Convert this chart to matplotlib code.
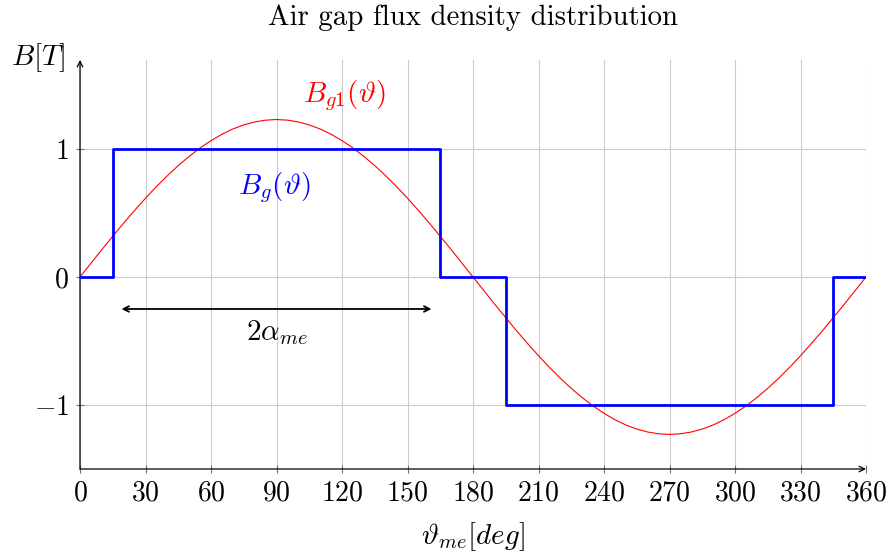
import numpy as np
import matplotlib
matplotlib.use("Agg")
import matplotlib.pyplot as plt

plt.rcParams['font.family'] = 'serif'
plt.rcParams['font.serif'] = ['cmr10']
plt.rcParams['mathtext.fontset'] = 'cm'
plt.rcParams['axes.unicode_minus'] = False

# -----------------------------
# Data
# -----------------------------
# square wave (air gap flux density), step edges
theta_sq = [0, 15, 165, 195, 345, 360]
b_sq = [0, 1, 0, -1, 0, 0]

# fundamental, read every 5 deg
theta_sin = list(range(0, 361, 5))
b_sin = [0, 0.107, 0.214, 0.318, 0.421, 0.520, 0.615, 0.706, 0.791, 0.870,
         0.942, 1.008, 1.065, 1.115, 1.156, 1.188, 1.211, 1.225, 1.230,
         1.225, 1.211, 1.188, 1.156, 1.115, 1.065, 1.008, 0.942, 0.870,
         0.791, 0.706, 0.615, 0.520, 0.421, 0.318, 0.214, 0.107, 0,
         -0.107, -0.214, -0.318, -0.421, -0.520, -0.615, -0.706, -0.791, -0.870,
         -0.942, -1.008, -1.065, -1.115, -1.156, -1.188, -1.211, -1.225, -1.230,
         -1.225, -1.211, -1.188, -1.156, -1.115, -1.065, -1.008, -0.942, -0.870,
         -0.791, -0.706, -0.615, -0.520, -0.421, -0.318, -0.214, -0.107, 0]

x_ticks = list(range(0, 361, 30))
y_ticks = [-1, 0, 1]

# -----------------------------
# Figure
# -----------------------------
fig = plt.figure(figsize=(8.9, 5.55), dpi=100)
ax = fig.add_axes([80 / 890, (555 - 469) / 555, 786 / 890, (469 - 60) / 555])

ax.plot(theta_sin, b_sin, color='#ff0000', lw=0.8, zorder=3)
ax.step(theta_sq, b_sq, where='post', color='#0000ff', lw=2.0, zorder=4)

ax.set_xlim(0, 360)
ax.set_ylim(-1.5, 1.695)

ax.set_xticks(x_ticks)
ax.set_xticklabels([f'${t}$' for t in x_ticks], fontsize=20)
ax.set_yticks(y_ticks)
ax.set_yticklabels([f'${t}$' for t in y_ticks], fontsize=20)
ax.tick_params(direction='inout', length=6, width=0.8, color='0.45', pad=5)

ax.grid(True, color='0.8', lw=0.8)
ax.set_axisbelow(True)

for s in ['top', 'right', 'left', 'bottom']:
    ax.spines[s].set_visible(False)

# axis lines with arrows
ax.annotate('', xy=(1.0, 0), xytext=(0, 0), xycoords='axes fraction',
            arrowprops=dict(arrowstyle='->', lw=0.9, color='black', shrinkA=0, shrinkB=0))
ax.annotate('', xy=(0, 1.0), xytext=(0, 0), xycoords='axes fraction',
            arrowprops=dict(arrowstyle='->', lw=0.9, color='black', shrinkA=0, shrinkB=0))

# 2 alpha_me arrow
ax.annotate('', xy=(161, -0.25), xytext=(19, -0.25),
            arrowprops=dict(arrowstyle='<->', lw=1.3, color='black', shrinkA=0, shrinkB=0))
ax.text(90, -0.43, r'$2\alpha_{me}$', fontsize=21, ha='center', va='center')

ax.text(121, 1.42, r'$B_{g1}(\vartheta)$', fontsize=21, color='#ff0000', ha='center', va='center')
ax.text(89, 0.70, r'$B_{g}(\vartheta)$', fontsize=21, color='#0000ff', ha='center', va='center')

fig.text(473 / 890, 1 - 18 / 555, 'Air gap flux density distribution', fontsize=20.8,
         ha='center', va='center')
fig.text(38 / 890, 1 - 58 / 555, r'$B[T]$', fontsize=21, ha='center', va='center')
fig.text(473 / 890, 1 - 537 / 555, r'$\vartheta_{me}[deg]$', fontsize=21, ha='center', va='center')

fig.savefig('out.png', dpi=100)
